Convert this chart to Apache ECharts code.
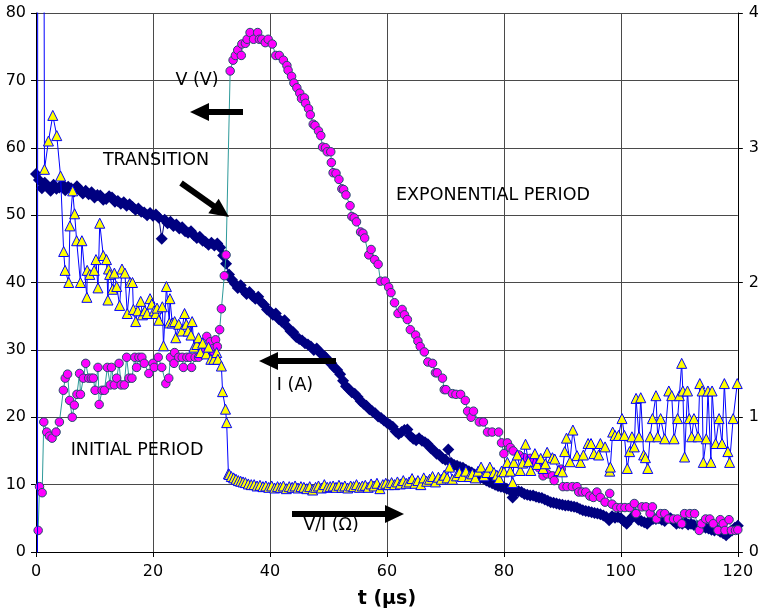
<!DOCTYPE html>
<html><head><meta charset="utf-8">
<script src="https://cdn.jsdelivr.net/npm/echarts@6/dist/echarts.min.js"></script>
<style>html,body{margin:0;padding:0;background:#fff}#c{width:762px;height:614px}</style>
</head><body><div id="c"></div>
<script>
// x ticks, y ticks
const xTicks = [0, 20, 40, 60, 80, 100, 120];
const leftTicks = [0, 10, 20, 30, 40, 50, 60, 70, 80];
const rightTicks = [0, 1, 2, 3, 4];

// V (V): [t (µs), volts] – left axis
const voltage = [
[0.37,3.2],[0.6,9.7],[1.05,8.8],[1.33,19.3],[1.84,17.8],[2.3,17.2],[2.75,16.9],[3.43,17.8],[4.0,19.3],[4.68,24],[5.0,25.8],[5.4,26.4],[5.75,22.5],[6.2,20],[6.55,21.8],[7.0,23.4],[7.45,26.5],[7.6,23.4],[8.1,25.8],[8.5,28],[9.0,25.8],[9.45,25.8],[9.8,25.8],[10.1,24],[10.6,27.4],[10.8,21.9],[11.3,24],[11.7,24],[12.2,27.4],[12.7,24.8],[12.9,27.4],[13.4,24.8],[13.8,25.8],[14.2,28],[14.55,24.8],[15.1,24.8],[15.5,28.9],[15.9,25.8],[16.4,25.8],[16.9,28.9],[17.2,27.4],[17.6,28.9],[18.1,28.9],[18.5,28],[19.3,26.5],[20.0,28],[20.2,27.4],[20.9,28.9],[21.5,27.4],[22.2,25],[22.7,25.8],[23.0,28.9],[23.6,28],[23.7,29.6],[24.4,28.9],[25.0,28.9],[25.2,27.4],[25.8,28.9],[26.3,28.9],[26.6,27.4],[27.2,28.9],[27.8,28.9],[28.4,29.6],[29.2,32],[29.8,31.2],[30.3,30.2],[30.4,29.3],[30.7,31.5],[31.0,30.5],[31.4,33],[31.7,36.1],[32.2,41],[32.5,44.1],
[33.2,71.4],[33.7,73],[34.1,73.7],[34.5,74.5],[35.1,73.7],[35.2,75.4],[35.8,75.5],[36.1,76.1],[36.6,77.1],[37.2,76.1],[37.9,77.1],[38.2,76.1],[38.6,76.1],[39.2,75.6],[39.7,76.1],[40.4,75.4],[41.0,73.7],[41.6,73.7],[42.3,73],[42.9,72.2],[43.1,71.5],[43.7,70.6],[44.1,69.6],[44.6,68.9],[45.1,68.1],[45.4,67.3],[45.9,67.4],[46.1,66.6],[46.6,65.8],[46.9,64.9],[47.4,63.5],[47.7,63.3],[48.3,62.5],[48.7,61.8],[49.0,60.1],[49.5,60],[49.8,59.4],[50.4,59.4],[50.5,57.8],[50.8,56.3],[51.3,56.2],[51.8,55.3],[52.3,53.9],[52.6,53.8],[53.0,53],[53.7,51.4],[54.0,49.8],[54.4,49.6],[54.8,49],[55.5,47.5],[55.9,47.3],[56.2,46.6],[56.9,44.1],[57.3,44.9],[57.9,43.4],[58.5,42.7],[58.9,40.2],[59.7,40.2],[60.3,39.3],[60.7,38.5],[61.3,37],[61.9,35.4],[62.6,36],[63.0,35.2],[63.5,34.5],[64.0,33],[64.9,32.2],[65.3,31.3],[65.7,30.5],[66.4,29.7],[67.0,28.2],[67.8,28],[68.3,26.6],[68.6,26.6],[69.5,25.8],[69.8,24.1],[70.1,24.1],[71.2,23.5],[71.8,23.4],[72.6,23.4],[73.4,22.5],[73.8,20.9],[74.4,20],[74.8,20.9],[75.8,19.3],[76.5,19.3],[77.2,17.8],[78.0,17.8],[79.1,17.8],[79.6,16.2],[80.0,14.6],[80.6,16.2],[81.1,15.5],[81.6,15],[82.6,14.4],[83.5,14],[84.5,13.9],[85.1,13.5],[86.0,12.5],[86.7,11.3],[87.4,11.6],[88.3,11.3],[88.6,10.6],[89.8,12.3],[90.1,9.7],[90.8,9.7],[91.7,9.7],[92.5,9.7],[92.8,8.9],[93.4,8.9],[94.0,8.9],[94.7,8.3],[95.3,8.1],[95.9,8.9],[96.5,8.1],[97.3,7.4],[98.1,8.7],[98.5,7.1],[99.3,6.6],[100.0,6.6],[100.7,6.6],[101.5,6.6],[102.3,7.2],[102.6,5.7],[103.6,6.7],[104.3,6.7],[105.0,5.7],[105.4,6.7],[106.1,4.9],[106.8,5.7],[107.5,5.7],[108.1,4.9],[109.0,4.9],[109.7,4.9],[110.4,4.2],[110.9,5.7],[111.8,5.7],[112.6,5.7],[113.4,3.2],[113.8,4.2],[114.5,4.9],[115.2,4.9],[115.8,4.2],[116.6,3.2],[117.0,4.8],[117.5,4.2],[117.8,3.2],[118.5,4.8],[118.9,3.2],[119.6,3.2],[120,3.3]
];

// I (A): [t (µs), amps] – left axis
const current = [
[0,56.1],[0.5,55.2],[1,54.0],[1.5,54.8],[2,54.3],[2.5,53.6],[3,54.5],[3.5,53.9],[4,54.1],[4.5,54.6],[5,53.7],[5.5,54.2],[6,54.0],[6.5,53.5],[7,54.3],[7.5,53.8],[8,53.2],[8.5,53.6],[9,53.1],[9.5,53.4],[10,52.6],
[10.5,53.0],[11,52.9],[11.5,52.3],[12,52.4],[12.5,52.8],[13,52.6],[13.5,52.0],[14,52.1],[14.5,51.7],[15,51.9],[15.5,51.4],[16,51.6],[16.5,51.2],[17,50.8],[17.5,51.0],[18,50.5],[18.5,50.4],[19,50.0],[19.5,50.3],[20,49.9],
[20.5,50.1],[21,49.6],[21.5,46.5],[22,49.3],[22.5,48.8],[23,49.0],[23.5,48.4],[24,48.6],[24.5,48.0],[25,48.2],[25.5,47.6],[26,47.4],[26.5,47.6],[27,47.0],[27.5,46.6],[28,46.8],[28.5,46.2],[29,46.0],[29.5,45.6],[30,45.9],
[30.5,45.5],[31,45.8],[31.5,45.2],[32,44.0],[32.5,42.8],[33,41.2],[33.5,40.4],[34,39.8],[34.5,39.2],[35,39.6],[35.5,38.8],[36,38.3],[36.5,38.6],[37,38.0],[37.5,37.6],[38,37.9],[38.5,37.1],[39,36.7],[39.5,36.0],[40,35.7],
[40.5,35.2],[41,35.4],[41.5,34.6],[42,34.2],[42.5,34.4],[43,33.4],[43.5,32.8],[44,32.6],[44.5,31.9],[45,31.6],[45.5,31.4],[46,31.0],[46.5,30.8],[47,30.5],[47.5,30.0],[48,30.2],[48.5,29.6],[49,29.3],[49.5,28.9],[50,28.3],
[50.5,28.0],[51,27.4],[51.5,27.0],[52,26.4],[52.5,25.4],[53,24.6],[53.5,24.2],[54,23.7],[54.5,23.5],[55,23.0],[55.5,22.4],[56,22.0],[56.5,21.7],[57,21.2],[57.5,20.9],[58,20.6],[58.5,20.1],[59,19.9],[59.5,19.5],[60,19.2],
[60.5,18.9],[61,18.6],[61.5,17.9],[62,17.5],[62.5,17.8],[63,18.1],[63.5,18.2],[64,17.2],[64.5,16.8],[65,16.6],[65.5,16.9],[66,16.5],[66.5,16.3],[67,16.0],[67.5,15.4],[68,15.1],[68.5,14.6],[69,14.4],[69.5,13.9],[70,13.7],
[70.5,15.2],[71,13.2],[71.5,12.9],[72,12.8],[72.5,12.6],[73,12.5],[73.5,12.2],[74,12.0],[74.5,11.8],[75,11.5],[75.5,11.3],[76,11.0],[76.5,10.9],[77,10.6],[77.5,10.4],[78,10.2],[78.5,10.0],[79,9.8],[79.5,9.7],[80,9.6],
[80.5,9.4],[81,9.2],[81.5,8.1],[82,8.9],[82.5,9.0],[83,8.9],[83.5,8.6],[84,8.5],[84.5,8.4],[85,8.4],[85.5,8.2],[86,8.1],[86.5,8.0],[87,7.8],[87.5,7.6],[88,7.4],[88.5,7.3],[89,7.2],[89.5,7.1],[90,7.0],
[90.5,6.9],[91,6.9],[91.5,6.8],[92,6.7],[92.5,6.6],[93,6.4],[93.5,6.2],[94,6.1],[94.5,6.0],[95,5.9],[95.5,5.8],[96,5.7],[96.5,5.6],[97,5.4],[97.5,5.2],[98,4.7],[98.5,5.3],[99,5.1],[99.5,5.2],[100,5.0],
[100.5,4.6],[101,4.2],[101.5,4.8],[102,5.2],[102.5,5.7],[103,4.8],[103.5,4.6],[104,4.4],[104.5,4.2],[105,4.7],[105.5,4.9],[106,4.9],[106.5,5.0],[107,4.8],[107.5,4.6],[108,5.2],[108.5,5.0],[109,4.6],[109.5,4.2],[110,4.3],
[110.5,4.2],[111,4.4],[111.5,4.1],[112,4.2],[112.5,4.0],[113,3.9],[113.5,3.8],[114,3.7],[114.5,3.6],[115,3.5],[115.5,3.3],[116,3.2],[116.5,3.3],[117,3.0],[117.5,2.8],[118,2.5],[118.5,2.9],[119,3.2],[119.5,3.6],[120,3.9]
];

// V/I (Ω): [t (µs), ohms] – right axis (first points run off-scale)
const resistance = [
[0.25,-1],[0.3,6],[1.3,6],[1.45,2.84],[2.13,3.05],[2.87,3.24],[3.55,3.09],[4.2,2.79],[4.73,2.23],[4.97,2.09],[5.6,2.0],[5.8,2.42],[6.27,2.68],[6.6,2.51],[6.95,2.31],[7.6,2.0],[7.85,2.31],[8.7,1.89],[8.75,2.09],[9.2,2.06],[9.95,2.09],[10.25,2.17],[10.6,1.96],[10.9,2.44],[11.5,2.2],[12.05,2.17],[12.3,1.87],[12.4,2.1],[12.6,2.06],[13.1,1.95],[13.4,2.07],[13.8,1.97],[14.3,1.83],[14.7,2.1],[15.2,2.07],[15.6,1.77],[16.1,2.0],[16.5,2.0],[16.65,1.8],[17.05,1.71],[17.4,1.79],[17.9,1.86],[18.2,1.76],[18.6,1.79],[19.0,1.77],[19.5,1.88],[19.8,1.84],[20.2,1.79],[20.5,1.77],[20.7,1.81],[21.0,1.72],[21.6,1.82],[21.8,1.53],[22.3,1.97],[22.8,1.7],[22.9,1.88],[23.3,1.7],[23.7,1.71],[23.9,1.59],[24.4,1.69],[24.9,1.64],[25.4,1.77],[25.7,1.69],[26.0,1.64],[26.5,1.61],[26.7,1.71],[27.0,1.52],[27.5,1.54],[27.8,1.59],[28.1,1.48],[28.5,1.55],[29.1,1.47],[29.5,1.52],[29.9,1.43],[30.4,1.43],[30.9,1.48],[31.1,1.43],[31.7,1.38],[31.9,1.19],[32.4,1.06],[32.6,0.96],[32.9,0.58],
[33.05,0.575],[33.4,0.56],[33.8,0.55],[34.2,0.54],[34.6,0.53],[35.0,0.525],[35.4,0.52],[35.8,0.515],[36.3,0.505],[36.8,0.5],[37.3,0.5],[37.8,0.49],[38.3,0.495],[38.8,0.485],[39.3,0.49],[39.8,0.48],[40.3,0.49],[40.8,0.475],[41.3,0.485],[41.8,0.48],[42.3,0.49],[42.8,0.47],[43.3,0.485],[43.8,0.48],[44.3,0.49],[44.8,0.475],[45.3,0.485],[45.8,0.48],[46.3,0.47],[46.8,0.485],[47.3,0.46],[47.8,0.48],[48.3,0.49],[48.8,0.475],[49.3,0.5],[49.8,0.48],[50.3,0.485],[50.8,0.49],[51.3,0.48],[51.8,0.495],[52.3,0.48],[52.8,0.49],[53.3,0.475],[53.8,0.49],[54.3,0.485],[54.8,0.5],[55.3,0.48],[55.8,0.49],[56.3,0.495],[56.8,0.48],[57.3,0.505],[57.8,0.49],[58.3,0.51],[58.8,0.47],[59.3,0.5],[59.8,0.51],[60.3,0.5],[60.8,0.515],[61.3,0.5],[61.8,0.52],[62.3,0.505],[62.8,0.53],[63.3,0.51],[63.8,0.52],[64.3,0.545],[64.8,0.51],[65.3,0.53],[65.8,0.5],[66.3,0.55],[66.8,0.525],[67.3,0.54],[67.8,0.56],[68.3,0.52],[68.8,0.555],[69.3,0.54],[69.8,0.57],[70.3,0.55],[70.7,0.63],[71.2,0.54],[71.9,0.565],[72.4,0.59],[72.9,0.56],[73.5,0.6],[74.1,0.56],[74.6,0.58],[75.1,0.55],[75.6,0.6],[76.1,0.63],[76.6,0.565],[77.1,0.59],[77.6,0.63],[78.3,0.59],[78.8,0.57],[79.2,0.545],[79.6,0.6],[80.0,0.595],[80.6,0.665],[81.1,0.6],[81.5,0.515],[81.7,0.665],[82.3,0.72],[82.8,0.605],[83.2,0.66],[83.7,0.8],[84.2,0.67],[84.6,0.605],[85.3,0.73],[85.7,0.65],[86.3,0.695],[86.7,0.62],[87.1,0.655],[87.4,0.74],[88.3,0.70],[88.7,0.69],[89.4,0.605],[90.0,0.595],[90.4,0.745],[90.7,0.845],[91.3,0.67],[91.8,0.905],[92.5,0.715],[93.1,0.665],[93.6,0.72],[94.4,0.805],[94.9,0.805],[95.4,0.73],[96.2,0.72],[96.5,0.805],[97.3,0.78],[98.1,0.60],[98.2,0.63],[98.6,0.89],[99.0,0.865],[99.6,0.865],[100.2,0.99],[100.6,0.865],[101.1,0.62],[101.5,0.745],[101.9,0.855],[102.3,0.78],[102.6,1.14],[103.1,0.855],[103.4,1.145],[103.9,0.72],[104.2,0.7],[104.6,0.62],[105.0,0.855],[105.4,0.99],[106.0,1.16],[106.3,0.855],[106.8,0.99],[107.5,0.84],[108.2,1.195],[108.7,1.16],[109.1,0.84],[109.7,0.99],[110.0,1.16],[110.4,1.4],[110.6,1.195],[110.9,0.705],[111.4,1.195],[111.7,0.99],[112.1,0.855],[112.5,0.99],[113.2,0.855],[113.5,1.25],[113.9,1.195],[114.1,0.665],[114.6,0.84],[114.9,1.195],[115.4,0.665],[115.6,1.195],[116.2,0.805],[116.8,0.99],[117.3,0.805],[117.7,1.25],[118.3,0.745],[118.6,0.665],[119.2,0.99],[119.9,1.25]
];

const FONT = '"DejaVu Sans", "Liberation Sans", Arial, sans-serif';

function arrow(tail, tip) {
  const dx = tip[0] - tail[0], dy = tip[1] - tail[1];
  const L = Math.sqrt(dx * dx + dy * dy), ux = dx / L, uy = dy / L;
  const hl = 19, hw = 9;
  const bx = tip[0] - ux * hl, by = tip[1] - uy * hl;
  return [
    { type: 'polyline', shape: { points: [tail, [bx + ux * 2, by + uy * 2]] }, style: { stroke: '#000', lineWidth: 6, fill: null }, z: 100 },
    { type: 'polygon', shape: { points: [tip, [bx - uy * hw, by + ux * hw], [bx + uy * hw, by - ux * hw]] }, style: { fill: '#000' }, z: 100 }
  ];
}
function label(text, x, y) {
  return { type: 'text', x: x, y: y, z: 100, style: { text: text, font: '17.5px ' + FONT, fill: '#000', align: 'center', verticalAlign: 'middle' } };
}

const chart = echarts.init(document.getElementById('c'), null, { renderer: 'canvas' });
const gridColor = '#4a4a4a';
chart.setOption({
  animation: false,
  backgroundColor: '#fff',
  grid: { left: 36, right: 21, top: 13, bottom: 59, containLabel: false },
  xAxis: {
    type: 'value', min: xTicks[0], max: xTicks[xTicks.length - 1], interval: 20,
    name: 't (µs)', nameLocation: 'middle', nameGap: 38,
    nameTextStyle: { fontFamily: FONT, fontWeight: 'bold', fontSize: 19, color: '#000' },
    axisLine: { show: true, onZero: false, lineStyle: { color: '#000', width: 1 } },
    axisTick: { show: true, inside: false, length: 5, lineStyle: { color: '#000' } },
    axisLabel: { fontFamily: FONT, fontSize: 16, color: '#000', margin: 12 },
    splitLine: { show: true, lineStyle: { color: gridColor, width: 1 } }
  },
  yAxis: [
    {
      type: 'value', min: leftTicks[0], max: leftTicks[leftTicks.length - 1], interval: 10, position: 'left',
      axisLine: { show: true, onZero: false, lineStyle: { color: '#000', width: 1 } },
      axisTick: { show: true, length: 5, lineStyle: { color: '#000' } },
      axisLabel: { fontFamily: FONT, fontSize: 16, color: '#000', margin: 10 },
      splitLine: { show: true, lineStyle: { color: gridColor, width: 1 } }
    },
    {
      type: 'value', min: rightTicks[0], max: rightTicks[rightTicks.length - 1], interval: 1, position: 'right',
      axisLine: { show: true, onZero: false, lineStyle: { color: '#000', width: 1 } },
      axisTick: { show: true, length: 5, lineStyle: { color: '#000' } },
      axisLabel: { fontFamily: FONT, fontSize: 16, color: '#000', margin: 11 },
      splitLine: { show: false }
    }
  ],
  series: [
    {
      name: 'I (A)', type: 'line', yAxisIndex: 0, data: current, z: 2,
      symbol: 'diamond', symbolSize: 12, showSymbol: true, showAllSymbol: true,
      itemStyle: { color: '#000080', borderWidth: 0 },
      lineStyle: { color: '#000080', width: 1 }, clip: true
    },
    {
      name: 'V (V)', type: 'line', yAxisIndex: 0, data: voltage, z: 3,
      symbol: 'circle', symbolSize: 8.5, showSymbol: true, showAllSymbol: true,
      itemStyle: { color: '#FF00FF', borderColor: '#1F4F6A', borderWidth: 1 },
      lineStyle: { color: '#2E9A9A', width: 1 }, clip: true
    },
    {
      name: 'V/I (Ω)', type: 'line', yAxisIndex: 1, data: resistance, z: 4,
      symbol: 'triangle', symbolSize: 10, showSymbol: true, showAllSymbol: true,
      itemStyle: { color: '#FFFF00', borderColor: '#0000FF', borderWidth: 1 },
      lineStyle: { color: '#0000FF', width: 1 }, clip: true
    }
  ],
  graphic: [
    label('V (V)', 197, 80),
    label('TRANSITION', 156, 160),
    label('EXPONENTIAL PERIOD', 493, 195),
    label('INITIAL PERIOD', 137, 450),
    label('I (A)', 295, 385),
    label('V/I (Ω)', 331, 525),
    ...arrow([243, 112], [190, 112]),
    ...arrow([181, 183], [229, 217]),
    ...arrow([336, 361], [259, 361]),
    ...arrow([292, 514], [404, 514])
  ]
});
</script>
</body></html>
